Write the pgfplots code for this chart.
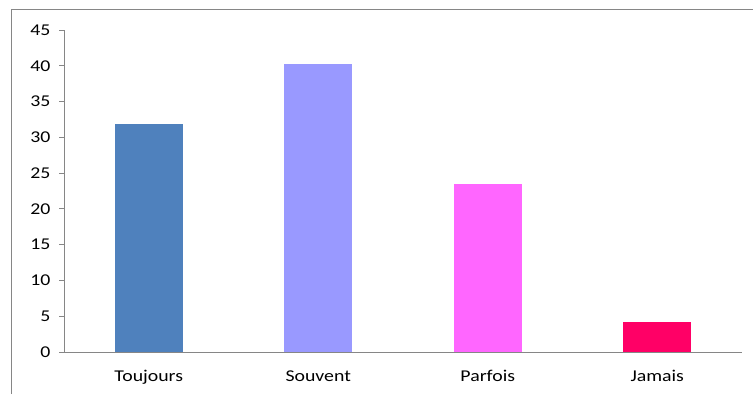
\documentclass[border=0pt]{standalone}
\usepackage{fontspec}
\setmainfont[FakeStretch=1.2]{Carlito}
\usepackage{pgfplots}
\pgfplotsset{compat=1.18}

\definecolor{axisgray}{HTML}{868686}
\definecolor{cToujours}{HTML}{4F81BD}
\definecolor{cSouvent}{HTML}{9999FF}
\definecolor{cParfois}{HTML}{FF66FF}
\definecolor{cJamais}{HTML}{FF0066}

\begin{document}
\begin{tikzpicture}[x=1bp,y=1bp]
% page size and the chart frame (top and left edges)
\path[use as bounding box] (0,0) rectangle (753,394);
\draw[axisgray, line width=1bp] (11,0) -- (11,384) -- (753,384);

\begin{axis}[
  at={(64bp,42bp)}, anchor=south west,
  scale only axis, width=678bp, height=322bp,
  xmin=-0.5, xmax=3.5, ymin=0, ymax=45,
  axis x line*=bottom, axis y line*=left,
  axis line style={axisgray, line width=0.9bp},
  every tick/.style={axisgray, line width=0.9bp},
  tick align=outside,
  xtick={0,1,2,3},
  xticklabels={Toujours,Souvent,Parfois,Jamais},
  x tick style={draw=none},
  minor xtick={-0.5,0.5,1.5,2.5,3.5},
  minor tick length=5bp, major tick length=5bp,
  ytick={0,5,...,45},
  /pgf/number format/assume math mode=true,
  ticklabel style={font=\fontsize{16.5bp}{19bp}\selectfont, text=black},
  xticklabel style={yshift=-10bp},
  yticklabel style={xshift=-5bp},
  ybar, bar width=68bp, bar shift=0pt,
]
\addplot[draw=none, fill=cToujours] coordinates {(0,31.8)};
\addplot[draw=none, fill=cSouvent]  coordinates {(1,40.2)};
\addplot[draw=none, fill=cParfois]  coordinates {(2,23.5)};
\addplot[draw=none, fill=cJamais]   coordinates {(3,4.2)};
\end{axis}
\end{tikzpicture}
\end{document}
